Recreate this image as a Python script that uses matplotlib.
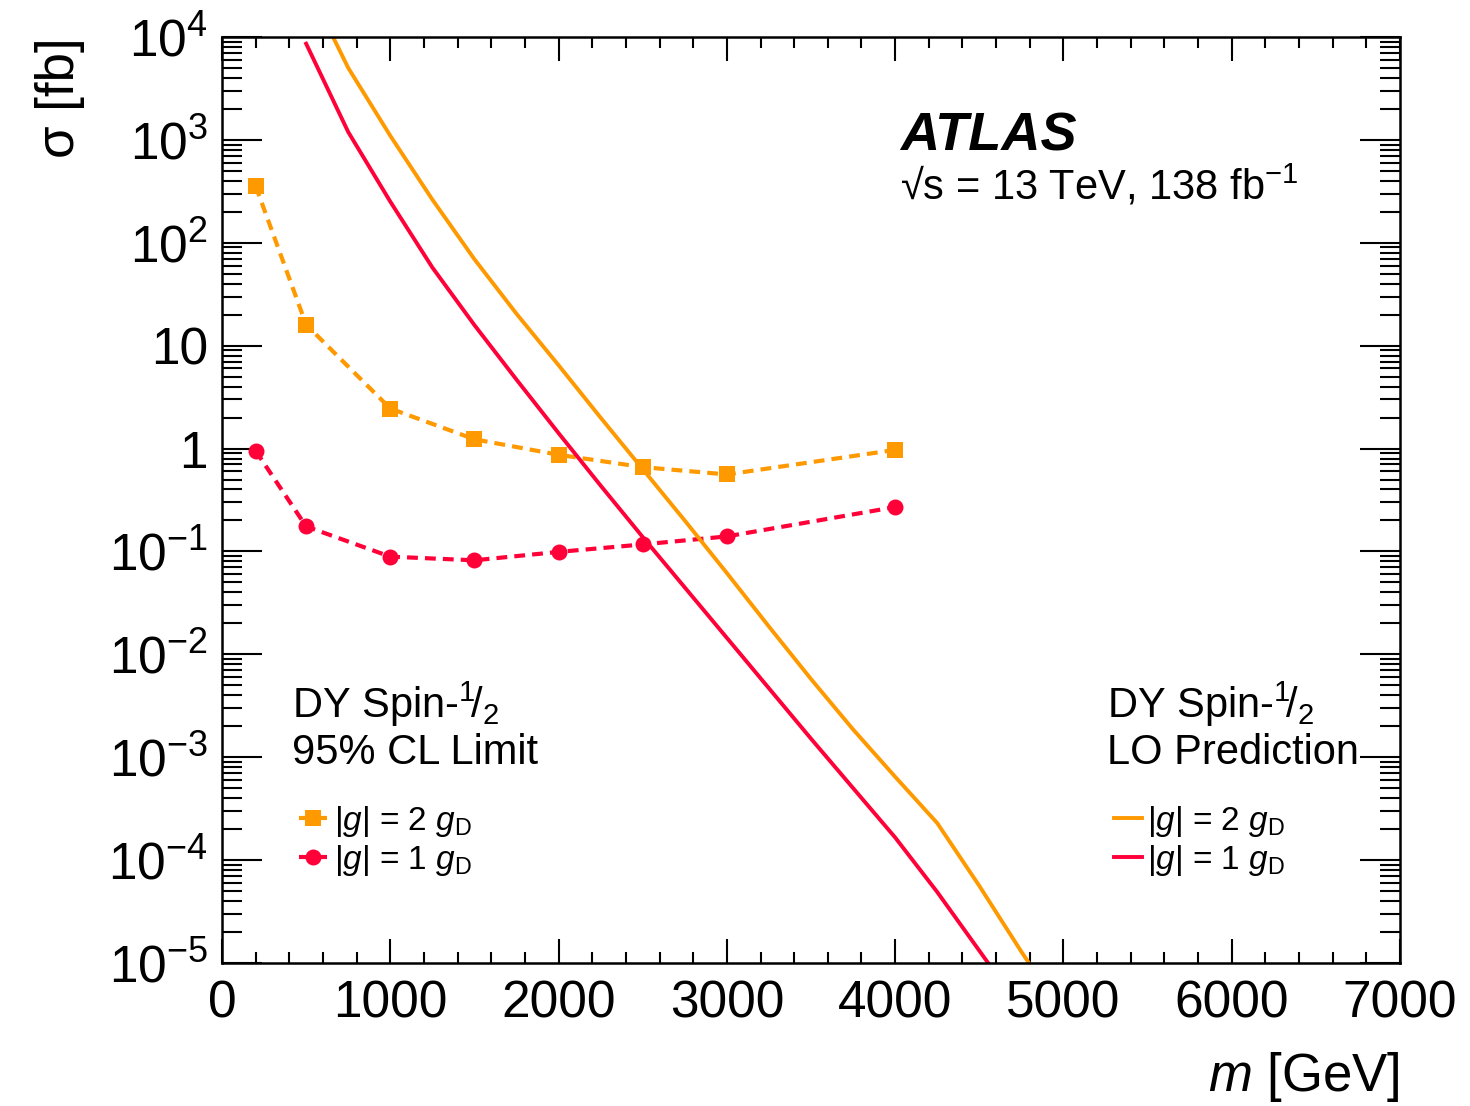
import numpy as np
import matplotlib
matplotlib.use("Agg")
import matplotlib.pyplot as plt
from matplotlib.ticker import FixedLocator, LogLocator, MultipleLocator, NullFormatter

plt.rcParams['font.family'] = ['Liberation Sans', 'DejaVu Sans']
plt.rcParams['mathtext.fontset'] = 'custom'
plt.rcParams['mathtext.rm'] = 'Liberation Sans'
plt.rcParams['mathtext.it'] = 'Liberation Sans:italic'
plt.rcParams['mathtext.bf'] = 'Liberation Sans:bold'

# observed 95% CL limits [fb]
mass_lim = [200, 500, 1000, 1500, 2000, 2500, 3000, 4000]
lim_g2 = [356, 16.0, 2.45, 1.23, 0.87, 0.66, 0.56, 0.97]
lim_g1 = [0.95, 0.175, 0.089, 0.082, 0.099, 0.117, 0.140, 0.270]

mass_th = [500, 750, 1000, 1250, 1500, 1750, 2000, 2250, 2500, 2750, 3000,
           3250, 3500, 3750, 4000, 4250, 4500, 4750, 5000]
log_th_g2 = [4.53, 3.70, 3.04, 2.42, 1.84, 1.31, 0.81, 0.30, -0.20, -0.70, -1.21,
             -1.73, -2.24, -2.73, -3.19, -3.64, -4.25, -4.89, -5.50]
log_th_g1 = [3.935, 3.077, 2.40, 1.76, 1.20, 0.67, 0.15, -0.36, -0.86, -1.35, -1.84,
             -2.33, -2.82, -3.30, -3.78, -4.31, -4.88, -5.45, -6.0]
th_g2 = [10 ** v for v in log_th_g2]
th_g1 = [10 ** v for v in log_th_g1]

ytick_vals = [1e-5, 1e-4, 1e-3, 1e-2, 1e-1, 1, 10, 1e2, 1e3, 1e4]
ytick_labels = [r'$10^{-5}$', r'$10^{-4}$', r'$10^{-3}$', r'$10^{-2}$', r'$10^{-1}$',
                '1', '10', r'$10^{2}$', r'$10^{3}$', r'$10^{4}$']

orange = '#ff9900'
red = '#ff0038'

fig = plt.figure(figsize=(14.7, 11.06), dpi=100)
ax = fig.add_axes([222 / 1470, 1 - 963 / 1106, 1178 / 1470, 926 / 1106])

lab2 = r'|$g$| = 2 $g_{\mathrm{D}}$'
lab1 = r'|$g$| = 1 $g_{\mathrm{D}}$'
l2, = ax.plot(mass_lim, lim_g2, color=orange, lw=3, ls=(0, (2.6, 1.7)),
              marker='s', ms=11.5, mew=0, label=lab2)
l1, = ax.plot(mass_lim, lim_g1, color=red, lw=3, ls=(0, (2.6, 1.7)),
              marker='o', ms=11.5, mew=0, label=lab1)
t2, = ax.plot(mass_th, th_g2, color=orange, lw=2.8, label=lab2)
t1, = ax.plot(mass_th, th_g1, color=red, lw=2.8, label=lab1)

ax.set_yscale('log')
ax.set_xlim(0, 7000)
ax.set_ylim(1e-5, 1e4)

ax.xaxis.set_major_locator(MultipleLocator(1000))
ax.xaxis.set_minor_locator(MultipleLocator(200))
ax.yaxis.set_major_locator(FixedLocator(ytick_vals))
ax.set_yticklabels(ytick_labels)
ax.yaxis.set_minor_locator(LogLocator(base=10, subs=np.arange(2, 10), numticks=100))
ax.yaxis.set_minor_formatter(NullFormatter())

ax.tick_params(which='both', direction='in', top=True, right=True, width=1.5, labelsize=37)
ax.tick_params(axis='x', which='major', length=17, pad=12)
ax.tick_params(axis='x', which='minor', length=8)
ax.tick_params(axis='y', which='major', length=29, pad=10)
ax.tick_params(axis='y', which='minor', length=14.5)
for s in ax.spines.values():
    s.set_linewidth(1.8)

ax.set_xlabel(r'$m$ [GeV]', fontsize=38, loc='right', labelpad=15)
ax.set_ylabel('σ [fb]', fontsize=38, loc='top', labelpad=17)

ax.text(0.5756, 0.877, 'ATLAS', transform=ax.transAxes, fontsize=39,
        fontweight='bold', fontstyle='italic')
ax.text(0.5756, 0.824, '√s = 13 TeV, 138 fb$^{-1}$', transform=ax.transAxes, fontsize=30)

ax.text(0.0594, 0.2646, 'DY Spin-$^{1}\\!/_{2}$', transform=ax.transAxes, fontsize=30)
ax.text(0.0594, 0.2149, '95% CL Limit', transform=ax.transAxes, fontsize=30)
ax.text(0.7513, 0.2646, 'DY Spin-$^{1}\\!/_{2}$', transform=ax.transAxes, fontsize=30)
ax.text(0.7513, 0.2149, 'LO Prediction', transform=ax.transAxes, fontsize=30)

leg1 = ax.legend(handles=[l2, l1], loc='upper left', bbox_to_anchor=(0.065, 0.172),
                 frameon=False, fontsize=24, handlelength=0.85, handletextpad=0.2,
                 labelspacing=0.12, borderaxespad=0, borderpad=0)
ax.add_artist(leg1)
ax.legend(handles=[t2, t1], loc='upper left', bbox_to_anchor=(0.757, 0.172),
          frameon=False, fontsize=24, handlelength=0.85, handletextpad=0.15,
          labelspacing=0.12, borderaxespad=0, borderpad=0)

fig.savefig('out.png', dpi=100)
